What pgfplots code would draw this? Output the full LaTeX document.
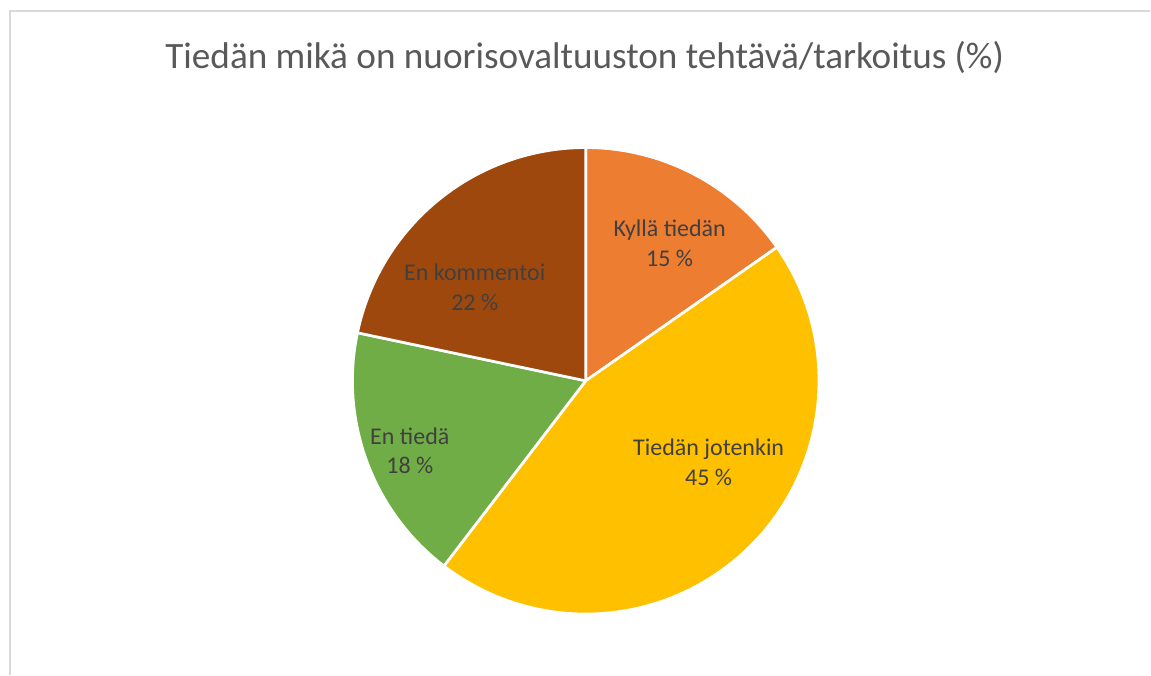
\documentclass[border=0pt]{standalone}
\usepackage{pgfplots}
\pgfplotsset{compat=1.18}
\usepackage{pgfplotstable}
\usepackage{fontspec}
\setmainfont{Carlito}

\definecolor{pie0}{HTML}{ED7D31}
\definecolor{pie1}{HTML}{FFC000}
\definecolor{pie2}{HTML}{70AD47}
\definecolor{pie3}{HTML}{9E480E}
\definecolor{titlegray}{HTML}{595959}
\definecolor{labelgray}{HTML}{404040}
\definecolor{framegray}{HTML}{D9D9D9}
\newcommand\labelfont{\fontsize{18}{22.5}\selectfont}

% share in %, label centre (px, y from bottom)
\pgfplotstableread[col sep=comma]{
name,value,lx,ly
Kyllä tiedän,15.3,670,432
Tiedän jotenkin,45.1,709,212
En tiedä,17.9,410,224
En kommentoi,21.7,475,388
}\piedata

\begin{document}
\begin{tikzpicture}
\begin{axis}[
  x=0.75pt, y=0.75pt,
  xmin=0, xmax=1151, ymin=0, ymax=675,
  hide axis, clip=false, scale only axis
]
  \path (axis cs:0,0) rectangle (axis cs:1151,675);
  \draw[framegray, line width=0.9pt] (axis cs:10,0) -- (axis cs:10,664) -- (axis cs:1151,664);
  \node[text=titlegray, font=\fontsize{27.9}{33}\selectfont] at (axis cs:585,617)
    {Tiedän mikä on nuorisovaltuuston tehtävä/tarkoitus (\%)};

  \def\angacc{90}
  \pgfplotsforeachungrouped \i in {0,...,3} {
    \pgfplotstablegetelem{\i}{value}\of\piedata \let\v=\pgfplotsretval
    \pgfplotstablegetelem{\i}{name}\of\piedata \let\nm=\pgfplotsretval
    \pgfplotstablegetelem{\i}{lx}\of\piedata \let\lx=\pgfplotsretval
    \pgfplotstablegetelem{\i}{ly}\of\piedata \let\ly=\pgfplotsretval
    \pgfmathsetmacro\endang{\angacc-3.6*\v}
    \pgfmathtruncatemacro\vr{round(\v)}
    \edef\temp{%
      \noexpand\fill[fill=pie\i, draw=white, line width=2pt, line join=round]
        (axis cs:586,294) -- ++(\angacc:175pt)
        arc[start angle=\angacc, end angle=\endang, radius=175pt] -- cycle;
      \noexpand\node[align=center, text=labelgray, font=\noexpand\labelfont]
        at (axis cs:\lx,\ly) {\nm\noexpand\\\vr\space\noexpand\%};
    }\temp
    \global\let\angacc=\endang
  }
\end{axis}
\end{tikzpicture}
\end{document}
